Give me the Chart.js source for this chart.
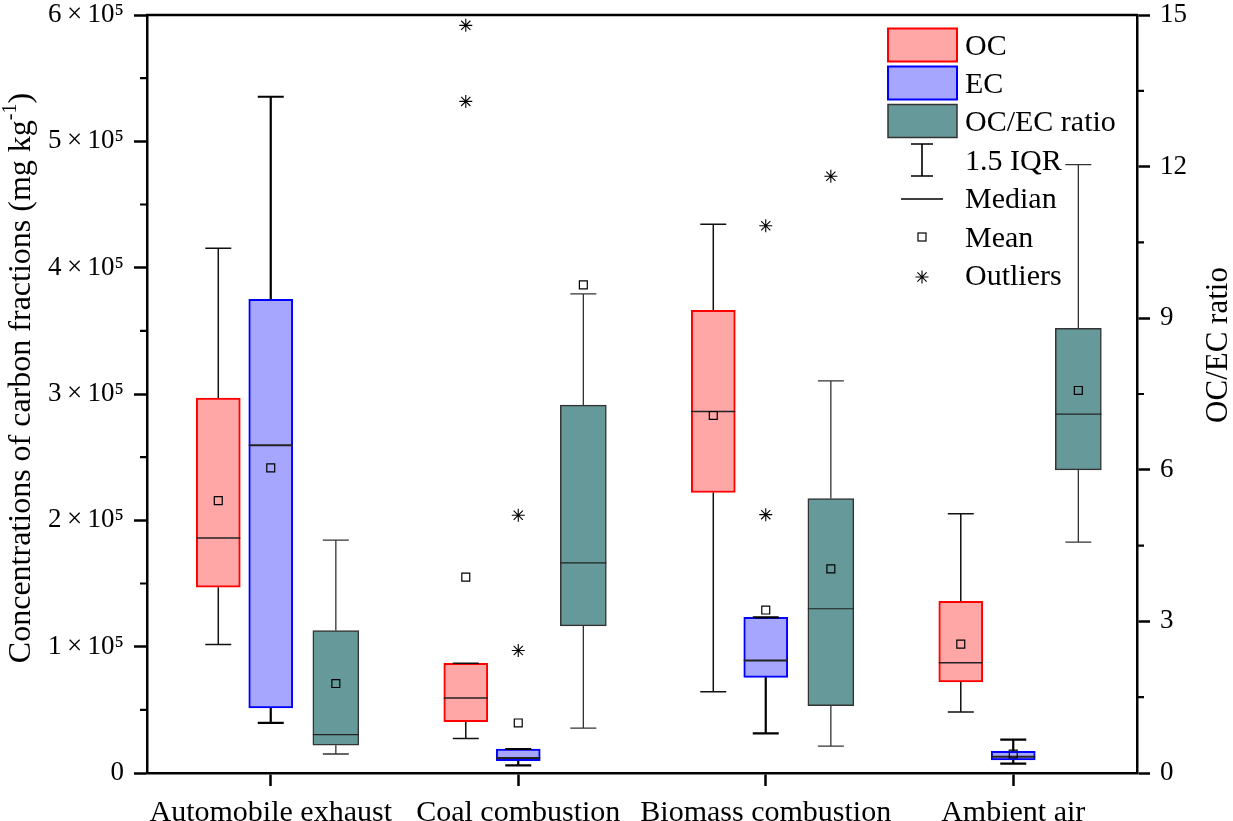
<!DOCTYPE html>
<html><head><meta charset="utf-8">
<script src="https://cdn.jsdelivr.net/npm/chart.js@4.4.1/dist/chart.umd.min.js"></script>
<style>html,body{margin:0;padding:0;background:#fff}#wrap{width:1233px;height:821px;position:relative}</style>
</head><body><div id="wrap"><canvas id="c" width="1233" height="821"></canvas></div>
<script>
// ---------- data ----------
const categories = ['Automobile exhaust', 'Coal combustion', 'Biomass combustion', 'Ambient air'];

// OC (mg/kg)
const ocMin      = [1.017e5, 0.274e5, 0.644e5, 0.483e5];
const ocQ1       = [1.47e5,  0.406e5, 2.22e5,  0.72e5];
const ocMedian   = [1.86e5,  0.594e5, 2.862e5, 0.873e5];
const ocQ3       = [2.968e5, 0.868e5, 3.662e5, 1.359e5];
const ocMax      = [4.153e5, 0.868e5, 4.343e5, 2.053e5];
const ocMean     = [2.156e5, 1.55e5,  2.83e5,  1.02e5];
const ocOutliers = [[], [5.918e5, 5.316e5], [], []];

// EC (mg/kg)
const ecMin      = [0.396e5, 0.06e5,  0.314e5, 0.074e5];
const ecQ1       = [0.515e5, 0.097e5, 0.757e5, 0.103e5];
const ecMedian   = [2.594e5, 0.119e5, 0.89e5,  0.129e5];
const ecQ3       = [3.749e5, 0.19e5,  1.232e5, 0.171e5];
const ecMax      = [5.353e5, 0.19e5,  1.232e5, 0.264e5];
const ecMean     = [2.415e5, 0.396e5, 1.29e5,  0.15e5];
const ecOutliers = [[], [2.04e5, 0.97e5], [4.332e5, 2.045e5], []];

// OC/EC ratio
const ratioMin      = [0.376, 0.89, 0.53, 4.57];
const ratioQ1       = [0.55,  2.91, 1.33, 6.00];
const ratioMedian   = [0.76,  4.16, 3.25, 7.10];
const ratioQ3       = [2.82,  7.28, 5.43, 8.80];
const ratioMax      = [4.61,  9.48, 7.76, 12.04];
const ratioMean     = [1.77,  9.66, 4.04, 7.57];
const ratioOutliers = [[], [], [11.81], []];

const leftTicks  = [0, 1e5, 2e5, 3e5, 4e5, 5e5, 6e5];
const rightTicks = [0, 3, 6, 9, 12, 15];

// ---------- presentation ----------
const FONT = '"Liberation Serif","Times New Roman",serif';
const OFFSET = { oc: -0.212, ec: 0, ratio: 0.263 };
const STATS = {
  oc:    { axis: 'y',  min: ocMin, q1: ocQ1, med: ocMedian, q3: ocQ3, max: ocMax, wColor: '#111', wWidth: 1.5, mWidth: 1.6 },
  ec:    { axis: 'y',  min: ecMin, q1: ecQ1, med: ecMedian, q3: ecQ3, max: ecMax, wColor: '#000', wWidth: 2.2, mWidth: 2 },
  ratio: { axis: 'y2', min: ratioMin, q1: ratioQ1, med: ratioMedian, q3: ratioQ3, max: ratioMax, wColor: '#333', wWidth: 1.3, mWidth: 1.2 }
};

function boxData(key, q1, q3) {
  return categories.map((c, i) => ({ x: i + OFFSET[key], y: [q1[i], q3[i]] }));
}
function meanData(key, arr) {
  return categories.map((c, i) => ({ x: i + OFFSET[key], y: arr[i] }));
}
function outlierData(key, arr) {
  const out = [];
  arr.forEach((list, i) => list.forEach(v => out.push({ x: i + OFFSET[key], y: v })));
  return out;
}

const meanStyle = { type: 'scatter', pointStyle: 'rect', pointRadius: 5.6, pointBorderWidth: 1.2,
  pointBorderColor: '#000', pointBackgroundColor: 'rgba(0,0,0,0)', order: 0 };
const outStyle = { type: 'scatter', pointStyle: 'star', pointRadius: 6.5, pointBorderWidth: 1.1,
  pointBorderColor: '#000', pointBackgroundColor: 'rgba(0,0,0,0)', order: 0 };

const boxPlugin = {
  id: 'boxParts',
  afterDatasetDraw(chart, args) {
    const ds = chart.data.datasets[args.index];
    if (!ds.boxKey) return;
    const s = STATS[ds.boxKey];
    const ys = chart.scales[s.axis];
    const ctx = chart.ctx;
    ctx.save();
    args.meta.data.forEach((bar, i) => {
      const cx = bar.x, half = bar.width / 2, cap = 13;
      const yq1 = ys.getPixelForValue(s.q1[i]), yq3 = ys.getPixelForValue(s.q3[i]);
      const ymin = ys.getPixelForValue(s.min[i]), ymax = ys.getPixelForValue(s.max[i]);
      const ymed = ys.getPixelForValue(s.med[i]);
      ctx.strokeStyle = s.wColor; ctx.lineWidth = s.wWidth;
      ctx.beginPath();
      ctx.moveTo(cx, yq3); ctx.lineTo(cx, ymax);
      ctx.moveTo(cx - cap, ymax); ctx.lineTo(cx + cap, ymax);
      ctx.moveTo(cx, yq1); ctx.lineTo(cx, ymin);
      ctx.moveTo(cx - cap, ymin); ctx.lineTo(cx + cap, ymin);
      ctx.stroke();
      ctx.lineWidth = s.mWidth; ctx.strokeStyle = '#222';
      ctx.beginPath();
      ctx.moveTo(cx - half, ymed); ctx.lineTo(cx + half, ymed);
      ctx.stroke();
    });
    ctx.restore();
  },
  afterDraw(chart) {
    const ctx = chart.ctx, a = chart.chartArea;
    const y = chart.scales.y, y2 = chart.scales.y2;
    ctx.save();
    // top frame
    ctx.strokeStyle = '#000'; ctx.lineWidth = 2.5;
    ctx.beginPath(); ctx.moveTo(a.left - 1, a.top); ctx.lineTo(a.right + 1, a.top); ctx.stroke();
    // minor ticks
    ctx.lineWidth = 2.2;
    ctx.beginPath();
    for (let i = 0; i < leftTicks.length - 1; i++) {
      const py = y.getPixelForValue((leftTicks[i] + leftTicks[i + 1]) / 2);
      ctx.moveTo(a.left - 7, py); ctx.lineTo(a.left, py);
    }
    for (let i = 0; i < rightTicks.length - 1; i++) {
      const py = y2.getPixelForValue((rightTicks[i] + rightTicks[i + 1]) / 2);
      ctx.moveTo(a.right, py); ctx.lineTo(a.right + 7, py);
    }
    ctx.stroke();

    // axis titles
    ctx.fillStyle = '#000';
    ctx.textBaseline = 'middle';
    ctx.save();
    ctx.translate(22, 378);
    ctx.rotate(-Math.PI / 2);
    const mainFont = '32px ' + FONT, supFont = '20px ' + FONT;
    const p1 = 'Concentrations of carbon fractions (mg kg', p2 = '-1', p3 = ')';
    ctx.font = mainFont; const w1 = ctx.measureText(p1).width, w3 = ctx.measureText(p3).width;
    ctx.font = supFont; const w2 = ctx.measureText(p2).width;
    let x0 = -(w1 + w2 + w3) / 2;
    ctx.textAlign = 'left';
    ctx.font = mainFont; ctx.fillText(p1, x0, 0);
    ctx.font = supFont; ctx.fillText(p2, x0 + w1, -11);
    ctx.font = mainFont; ctx.fillText(p3, x0 + w1 + w2, 0);
    ctx.restore();
    ctx.save();
    ctx.translate(1219, 345);
    ctx.rotate(-Math.PI / 2);
    ctx.font = '31px ' + FONT; ctx.textAlign = 'center';
    ctx.fillText('OC/EC ratio', 0, 0);
    ctx.restore();

    // legend
    const lx = 888, sw = 69, tx = 965, icx = 922;
    const swatches = [
      { label: 'OC', fill: '#ffa6a6', stroke: '#ff0000', top: 28.5, base: 55 },
      { label: 'EC', fill: '#a6a6ff', stroke: '#0000ff', top: 66.5, base: 93 },
      { label: 'OC/EC ratio', fill: '#669999', stroke: '#333333', top: 104.5, base: 131 }
    ];
    ctx.textBaseline = 'alphabetic'; ctx.textAlign = 'left'; ctx.font = '30px ' + FONT;
    swatches.forEach(s => {
      ctx.fillStyle = s.fill; ctx.fillRect(lx, s.top, sw, 33);
      ctx.strokeStyle = s.stroke; ctx.lineWidth = s.stroke === '#333333' ? 1.5 : 2;
      ctx.strokeRect(lx, s.top, sw, 33);
      ctx.fillStyle = '#000'; ctx.fillText(s.label, tx, s.base);
    });
    ctx.strokeStyle = '#000'; ctx.lineWidth = 1.6;
    ctx.beginPath();
    ctx.moveTo(icx, 144); ctx.lineTo(icx, 176);
    ctx.moveTo(icx - 11, 144); ctx.lineTo(icx + 11, 144);
    ctx.moveTo(icx - 11, 176); ctx.lineTo(icx + 11, 176);
    ctx.moveTo(901, 199); ctx.lineTo(943, 199);
    ctx.stroke();
    ctx.lineWidth = 1.2;
    ctx.strokeRect(icx - 4, 233, 8, 8);
    ctx.lineWidth = 1.1;
    ctx.beginPath();
    const sx = icx, sy = 277, r = 6.5;
    for (let k = 0; k < 4; k++) {
      const ang = k * Math.PI / 4;
      ctx.moveTo(sx - r * Math.cos(ang), sy - r * Math.sin(ang));
      ctx.lineTo(sx + r * Math.cos(ang), sy + r * Math.sin(ang));
    }
    ctx.stroke();
    ctx.fillStyle = '#000';
    ctx.fillText('1.5 IQR', tx, 170);
    ctx.fillText('Median', tx, 208);
    ctx.fillText('Mean', tx, 247);
    ctx.fillText('Outliers', tx, 285);
    ctx.restore();
  }
};

const axisCommon = {
  border: { display: true, color: '#000', width: 2.5 },
  grid: { display: true, drawOnChartArea: false, drawTicks: true, tickLength: 13, tickWidth: 2.5, tickColor: '#000', color: '#000', offset: false }
};

new Chart(document.getElementById('c'), {
  type: 'bar',
  data: {
    datasets: [
      { ...meanStyle, label: 'OC mean', data: meanData('oc', ocMean), yAxisID: 'y' },
      { ...meanStyle, label: 'EC mean', data: meanData('ec', ecMean), yAxisID: 'y' },
      { ...meanStyle, label: 'Ratio mean', data: meanData('ratio', ratioMean), yAxisID: 'y2' },
      { ...outStyle, label: 'OC outliers', data: outlierData('oc', ocOutliers), yAxisID: 'y' },
      { ...outStyle, label: 'EC outliers', data: outlierData('ec', ecOutliers), yAxisID: 'y' },
      { ...outStyle, label: 'Ratio outliers', data: outlierData('ratio', ratioOutliers), yAxisID: 'y2' },
      { type: 'bar', label: 'OC', boxKey: 'oc', data: boxData('oc', ocQ1, ocQ3), yAxisID: 'y',
        backgroundColor: '#ffa6a6', borderColor: '#ff0000', borderWidth: 2, order: 1 },
      { type: 'bar', label: 'EC', boxKey: 'ec', data: boxData('ec', ecQ1, ecQ3), yAxisID: 'y',
        backgroundColor: '#a6a6ff', borderColor: '#0000ff', borderWidth: 2, order: 1 },
      { type: 'bar', label: 'OC/EC ratio', boxKey: 'ratio', data: boxData('ratio', ratioQ1, ratioQ3), yAxisID: 'y2',
        backgroundColor: '#669999', borderColor: '#333333', borderWidth: 1.5, order: 1, barThickness: 46 }
    ]
  },
  options: {
    responsive: false,
    animation: false,
    events: [],
    layout: { padding: { top: 15, left: 0, right: 0, bottom: 0 } },
    datasets: { bar: { barThickness: 44, grouped: false, borderSkipped: false } },
    plugins: { legend: { display: false }, tooltip: { enabled: false } },
    scales: {
      x: {
        ...axisCommon,
        type: 'linear', min: -0.5, max: 3.5, offset: false,
        afterBuildTicks: (s) => { s.ticks = categories.map((c, i) => ({ value: i })); },
        ticks: { color: '#000', font: { family: FONT, size: 30, lineHeight: 1 }, padding: 12, maxRotation: 0, autoSkip: false,
          callback: (v) => categories[v] },
        afterFit: (s) => { s.height = 48; }
      },
      y: {
        ...axisCommon,
        position: 'left', min: 0, max: 6e5,
        afterBuildTicks: (s) => { s.ticks = leftTicks.map(v => ({ value: v })); },
        ticks: { color: '#000', font: { family: FONT, size: 27, lineHeight: 0.35 }, padding: 10,
          callback: (v) => v === 0 ? '0' : (v / 1e5) + '\u2009\u00d7\u200910\u2075' },
        afterFit: (s) => { s.width = 147; }
      },
      y2: {
        ...axisCommon,
        position: 'right', min: 0, max: 15,
        afterBuildTicks: (s) => { s.ticks = rightTicks.map(v => ({ value: v })); },
        ticks: { color: '#000', font: { family: FONT, size: 27, lineHeight: 0.35 }, padding: 10 },
        afterFit: (s) => { s.width = 96; }
      }
    }
  },
  plugins: [boxPlugin]
});
</script>
</body></html>
